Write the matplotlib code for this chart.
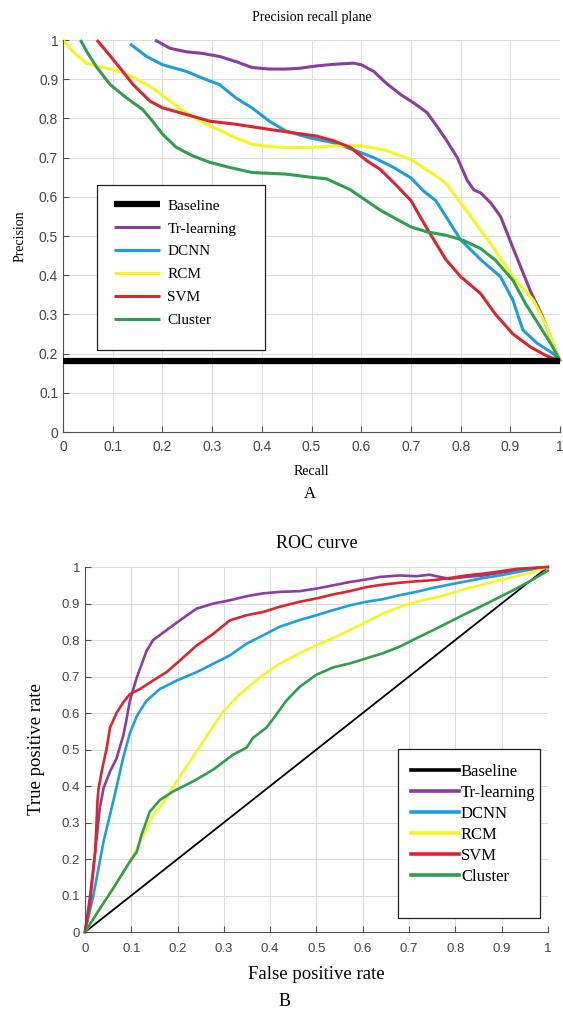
import matplotlib
matplotlib.use("Agg")
import matplotlib.pyplot as plt
from matplotlib.patches import Rectangle

# ---- panel A: precision / recall ----
labels = ["Baseline", "Tr-learning", "DCNN", "RCM", "SVM", "Cluster"]
colors = ["black", "#8B3E9E", "#1E9FDA", "#F5F522", "#DA2630", "#2F9E4E"]

pr_baseline_recall = [0.0, 1.0]
pr_baseline_prec = [0.18, 0.18]

pr_trl_recall = [0.185, 0.215, 0.248, 0.28, 0.315, 0.348, 0.38, 0.415, 0.448, 0.476, 0.51, 0.544,
                 0.584, 0.6, 0.625, 0.65, 0.68, 0.705, 0.732, 0.752, 0.772, 0.793, 0.813, 0.826,
                 0.84, 0.86, 0.88, 0.905, 0.94, 0.966, 0.99, 1.0]
pr_trl_prec = [1.0, 0.979, 0.97, 0.966, 0.958, 0.945, 0.93, 0.926, 0.926, 0.928, 0.934, 0.938,
               0.941, 0.937, 0.92, 0.89, 0.86, 0.84, 0.815, 0.78, 0.743, 0.70, 0.642, 0.618,
               0.61, 0.585, 0.55, 0.47, 0.36, 0.29, 0.21, 0.18]

pr_dcnn_recall = [0.135, 0.168, 0.2, 0.248, 0.28, 0.315, 0.348, 0.38, 0.415, 0.448, 0.498, 0.544,
                  0.584, 0.625, 0.665, 0.70, 0.725, 0.75, 0.80, 0.84, 0.88, 0.905, 0.925, 0.954,
                  0.986, 1.0]
pr_dcnn_prec = [0.99, 0.958, 0.937, 0.92, 0.903, 0.886, 0.852, 0.827, 0.793, 0.768, 0.75, 0.738,
                0.72, 0.70, 0.675, 0.648, 0.615, 0.59, 0.49, 0.44, 0.396, 0.336, 0.26, 0.226,
                0.20, 0.18]

pr_rcm_recall = [0.0, 0.02, 0.048, 0.08, 0.115, 0.148, 0.18, 0.215, 0.248, 0.28, 0.315, 0.348,
                 0.38, 0.415, 0.448, 0.498, 0.544, 0.6, 0.645, 0.70, 0.745, 0.77, 0.82, 0.86,
                 0.905, 0.946, 0.97, 1.0]
pr_rcm_prec = [1.0, 0.97, 0.94, 0.93, 0.92, 0.90, 0.878, 0.844, 0.814, 0.79, 0.77, 0.75,
               0.734, 0.728, 0.726, 0.726, 0.73, 0.73, 0.72, 0.695, 0.658, 0.635, 0.55, 0.48,
               0.396, 0.336, 0.277, 0.18]

pr_svm_recall = [0.068, 0.088, 0.115, 0.141, 0.175, 0.2, 0.248, 0.295, 0.348, 0.415, 0.476, 0.51,
                 0.544, 0.578, 0.611, 0.638, 0.67, 0.70, 0.734, 0.77, 0.80, 0.84, 0.87, 0.905,
                 0.94, 0.97, 1.0]
pr_svm_prec = [1.0, 0.97, 0.928, 0.886, 0.844, 0.827, 0.81, 0.793, 0.785, 0.772, 0.761, 0.755,
               0.743, 0.726, 0.692, 0.67, 0.63, 0.59, 0.515, 0.44, 0.396, 0.353, 0.30, 0.25,
               0.217, 0.196, 0.18]

pr_clu_recall = [0.035, 0.048, 0.068, 0.095, 0.128, 0.16, 0.18, 0.2, 0.228, 0.26, 0.295, 0.335,
                 0.38, 0.448, 0.498, 0.53, 0.578, 0.638, 0.70, 0.734, 0.77, 0.805, 0.84, 0.87,
                 0.905, 0.93, 0.96, 0.985, 1.0]
pr_clu_prec = [1.0, 0.97, 0.93, 0.886, 0.852, 0.823, 0.793, 0.76, 0.726, 0.705, 0.688, 0.675,
               0.662, 0.658, 0.65, 0.646, 0.618, 0.566, 0.523, 0.51, 0.502, 0.489, 0.468, 0.438,
               0.387, 0.328, 0.268, 0.217, 0.18]

# ---- panel B: ROC ----
roc_baseline_fpr = [0.0, 1.0]
roc_baseline_tpr = [0.0, 1.0]

roc_trl_fpr = [0, 0.011, 0.022, 0.032, 0.04, 0.054, 0.068, 0.083, 0.09, 0.097, 0.112, 0.133,
               0.147, 0.176, 0.205, 0.241, 0.277, 0.313, 0.349, 0.385, 0.42, 0.464, 0.5, 0.536,
               0.572, 0.608, 0.637, 0.68, 0.716, 0.745, 0.766, 0.788, 0.824, 0.86, 0.896, 0.932,
               0.968, 1.0]
roc_trl_tpr = [0, 0.1, 0.22, 0.34, 0.394, 0.44, 0.475, 0.54, 0.585, 0.634, 0.698, 0.77,
               0.8, 0.827, 0.854, 0.886, 0.9, 0.909, 0.92, 0.928, 0.932, 0.934, 0.941, 0.95,
               0.959, 0.966, 0.973, 0.977, 0.975, 0.979, 0.973, 0.968, 0.973, 0.977, 0.984, 0.991,
               0.997, 1.0]

roc_svm_fpr = [0, 0.011, 0.022, 0.027, 0.029, 0.036, 0.047, 0.054, 0.068, 0.083, 0.097, 0.119,
               0.147, 0.176, 0.205, 0.241, 0.277, 0.313, 0.349, 0.385, 0.42, 0.464, 0.5, 0.536,
               0.572, 0.608, 0.644, 0.68, 0.716, 0.752, 0.788, 0.824, 0.86, 0.896, 0.932, 1.0]
roc_svm_tpr = [0, 0.083, 0.22, 0.36, 0.39, 0.44, 0.505, 0.56, 0.6, 0.63, 0.652, 0.666,
               0.689, 0.712, 0.744, 0.785, 0.817, 0.854, 0.868, 0.877, 0.891, 0.905, 0.914, 0.925,
               0.934, 0.945, 0.952, 0.957, 0.961, 0.964, 0.97, 0.977, 0.982, 0.988, 0.995, 1.0]

roc_dcnn_fpr = [0, 0.018, 0.04, 0.061, 0.083, 0.097, 0.112, 0.133, 0.162, 0.198, 0.241, 0.277,
                0.313, 0.349, 0.385, 0.42, 0.464, 0.5, 0.536, 0.572, 0.608, 0.644, 0.68, 0.716,
                0.752, 0.788, 0.824, 0.86, 0.896, 0.932, 0.968, 1.0]
roc_dcnn_tpr = [0, 0.1, 0.248, 0.358, 0.48, 0.545, 0.592, 0.634, 0.666, 0.689, 0.712, 0.735,
                0.758, 0.79, 0.813, 0.836, 0.855, 0.868, 0.882, 0.895, 0.905, 0.912, 0.923, 0.932,
                0.943, 0.952, 0.961, 0.97, 0.977, 0.986, 0.994, 1.0]

roc_rcm_fpr = [0, 0.032, 0.061, 0.097, 0.119, 0.147, 0.176, 0.198, 0.227, 0.263, 0.299, 0.335,
               0.378, 0.42, 0.464, 0.5, 0.536, 0.572, 0.608, 0.644, 0.68, 0.716, 0.752, 0.788,
               0.824, 0.86, 0.896, 0.932, 0.968, 1.0]
roc_rcm_tpr = [0, 0.064, 0.12, 0.193, 0.248, 0.32, 0.367, 0.413, 0.468, 0.537, 0.605, 0.652,
               0.698, 0.735, 0.764, 0.786, 0.806, 0.827, 0.85, 0.873, 0.891, 0.905, 0.915, 0.927,
               0.941, 0.952, 0.964, 0.975, 0.986, 1.0]

roc_clu_fpr = [0, 0.032, 0.061, 0.097, 0.112, 0.122, 0.14, 0.162, 0.19, 0.234, 0.277, 0.32,
               0.349, 0.363, 0.392, 0.406, 0.435, 0.464, 0.5, 0.536, 0.572, 0.608, 0.644, 0.68,
               0.716, 0.752, 0.788, 0.824, 0.86, 0.896, 0.932, 0.968, 1.0]
roc_clu_tpr = [0, 0.064, 0.12, 0.193, 0.22, 0.266, 0.33, 0.362, 0.385, 0.413, 0.445, 0.486,
               0.505, 0.532, 0.56, 0.583, 0.634, 0.672, 0.705, 0.725, 0.736, 0.75, 0.764, 0.782,
               0.805, 0.827, 0.85, 0.873, 0.895, 0.918, 0.941, 0.966, 0.99]

ticks = [i / 10 for i in range(11)]
tick_labels = ["0", "0.1", "0.2", "0.3", "0.4", "0.5", "0.6", "0.7", "0.8", "0.9", "1"]

serif = "Liberation Serif"
sans = "Liberation Sans"


def style_axes(ax, tick_size, xpad):
    # matlab-ish look: light grid, left/bottom axis only, ticks inside
    ax.set_xlim(0, 1)
    ax.set_ylim(0, 1)
    ax.set_xticks(ticks)
    ax.set_yticks(ticks)
    ax.set_xticklabels(tick_labels, family=sans, fontsize=tick_size, color="#454545")
    ax.set_yticklabels(tick_labels, family=sans, fontsize=tick_size, color="#454545")
    ax.grid(True, color="#dcdcdc", lw=0.7)
    ax.set_axisbelow(True)
    for side in ["top", "right"]:
        ax.spines[side].set_visible(False)
    for side in ["left", "bottom"]:
        ax.spines[side].set_color("#505050")
        ax.spines[side].set_linewidth(0.8)
    ax.tick_params(direction="in", length=4, color="#505050", width=0.8)
    ax.tick_params(axis="x", pad=xpad)


fig = plt.figure(figsize=(5.63, 10.11), dpi=100)

# panel A
axA = fig.add_axes([0.112, 0.5727, 0.883, 0.3877])
style_axes(axA, 10, 6)
pr_series = [
    (pr_baseline_recall, pr_baseline_prec),
    (pr_trl_recall, pr_trl_prec),
    (pr_dcnn_recall, pr_dcnn_prec),
    (pr_rcm_recall, pr_rcm_prec),
    (pr_svm_recall, pr_svm_prec),
    (pr_clu_recall, pr_clu_prec),
]
handlesA = []
for i, (x, y) in enumerate(pr_series):
    lw = 4.5 if i == 0 else 2.2
    h, = axA.plot(x, y, color=colors[i], lw=lw, label=labels[i], clip_on=False,
                  zorder=3 if i == 0 else 2, solid_capstyle="butt")
    handlesA.append(h)
axA.set_title("Precision recall plane", family=serif, fontsize=10, pad=14)
axA.set_xlabel("Recall", family=serif, fontsize=10, labelpad=8)
axA.set_ylabel("Precision", family=serif, fontsize=10, labelpad=9)
axA.add_patch(Rectangle((0.068, 0.209), 0.338, 0.421, transform=axA.transAxes,
                        fill=True, facecolor="white", edgecolor="#202020", lw=0.9, zorder=4))
axA.legend(handles=handlesA, loc="upper left", bbox_to_anchor=(0.09, 0.61),
           frameon=False, prop={"family": serif, "size": 11}, handlelength=3.0,
           handletextpad=0.5, labelspacing=0.6, borderaxespad=0)
fig.text(0.55, 1 - 494 / 1011, "A", family=serif, fontsize=12, ha="center", va="center")

# panel B
axB = fig.add_axes([0.151, 0.0781, 0.822, 0.361])
style_axes(axB, 9.5, 8)
roc_series = [
    (roc_baseline_fpr, roc_baseline_tpr),
    (roc_trl_fpr, roc_trl_tpr),
    (roc_dcnn_fpr, roc_dcnn_tpr),
    (roc_rcm_fpr, roc_rcm_tpr),
    (roc_svm_fpr, roc_svm_tpr),
    (roc_clu_fpr, roc_clu_tpr),
]
handlesB = []
for i, (x, y) in enumerate(roc_series):
    lw = 1.3 if i == 0 else 1.9
    h, = axB.plot(x, y, color=colors[i], lw=lw, label=labels[i], clip_on=False)
    handlesB.append(h)
# black line in legend is drawn thicker than the diagonal
legend_lines = [plt.Line2D([], [], color=c, lw=2.6) for c in colors]
axB.set_title("ROC curve", family=serif, fontsize=13, pad=14)
axB.set_xlabel("False positive rate", family=serif, fontsize=13.5, labelpad=8)
axB.set_ylabel("True positive rate", family=serif, fontsize=13.5, labelpad=12)
axB.add_patch(Rectangle((0.676, 0.038), 0.307, 0.463, transform=axB.transAxes,
                        fill=True, facecolor="white", edgecolor="#202020", lw=0.9, zorder=4))
axB.legend(legend_lines, labels, loc="upper left", bbox_to_anchor=(0.69, 0.48),
           frameon=False, prop={"family": serif, "size": 12}, handlelength=2.9,
           handletextpad=0.1, labelspacing=0.3, borderaxespad=0)
fig.text(0.505, 1 - 1002 / 1011, "B", family=serif, fontsize=13, ha="center", va="center")

fig.savefig("out.png", dpi=100)
